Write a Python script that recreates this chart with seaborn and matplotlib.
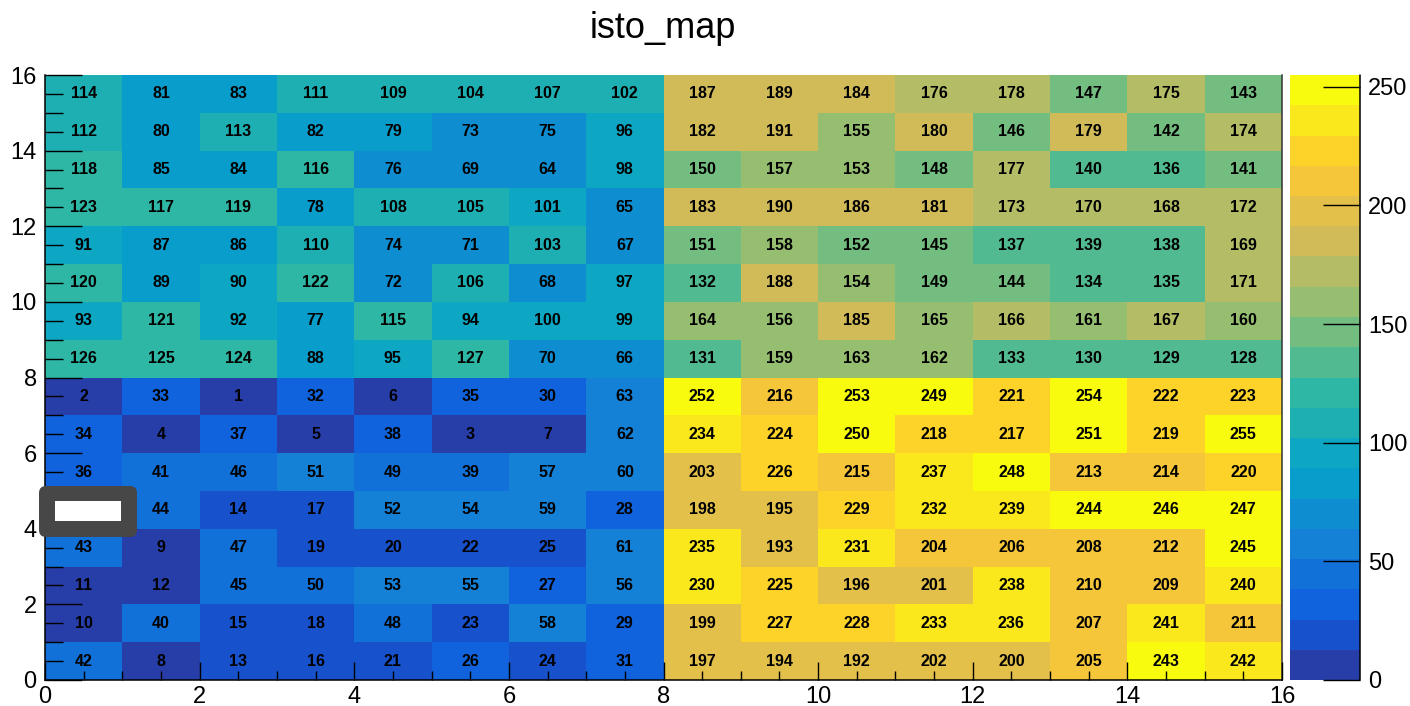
import numpy as np
import matplotlib
matplotlib.use("Agg")
import matplotlib.pyplot as plt
from matplotlib.colors import LinearSegmentedColormap, ListedColormap, BoundaryNorm
from matplotlib.patches import FancyBboxPatch, Rectangle
from matplotlib.ticker import MultipleLocator
import seaborn as sns

# ---------------- data ----------------
title = "isto_map"
# bin contents, one list per y bin (x bins 0..15 left to right)
y15 = [114, 81, 83, 111, 109, 104, 107, 102, 187, 189, 184, 176, 178, 147, 175, 143]
y14 = [112, 80, 113, 82, 79, 73, 75, 96, 182, 191, 155, 180, 146, 179, 142, 174]
y13 = [118, 85, 84, 116, 76, 69, 64, 98, 150, 157, 153, 148, 177, 140, 136, 141]
y12 = [123, 117, 119, 78, 108, 105, 101, 65, 183, 190, 186, 181, 173, 170, 168, 172]
y11 = [91, 87, 86, 110, 74, 71, 103, 67, 151, 158, 152, 145, 137, 139, 138, 169]
y10 = [120, 89, 90, 122, 72, 106, 68, 97, 132, 188, 154, 149, 144, 134, 135, 171]
y9 = [93, 121, 92, 77, 115, 94, 100, 99, 164, 156, 185, 165, 166, 161, 167, 160]
y8 = [126, 125, 124, 88, 95, 127, 70, 66, 131, 159, 163, 162, 133, 130, 129, 128]
y7 = [2, 33, 1, 32, 6, 35, 30, 63, 252, 216, 253, 249, 221, 254, 222, 223]
y6 = [34, 4, 37, 5, 38, 3, 7, 62, 234, 224, 250, 218, 217, 251, 219, 255]
y5 = [36, 41, 46, 51, 49, 39, 57, 60, 203, 226, 215, 237, 248, 213, 214, 220]
y4 = [0, 44, 14, 17, 52, 54, 59, 28, 198, 195, 229, 232, 239, 244, 246, 247]
y3 = [43, 9, 47, 19, 20, 22, 25, 61, 235, 193, 231, 204, 206, 208, 212, 245]
y2 = [11, 12, 45, 50, 53, 55, 27, 56, 230, 225, 196, 201, 238, 210, 209, 240]
y1 = [10, 40, 15, 18, 48, 23, 58, 29, 199, 227, 228, 233, 236, 207, 241, 211]
y0 = [42, 8, 13, 16, 21, 26, 24, 31, 197, 194, 192, 202, 200, 205, 243, 242]

x_ticks = [0, 2, 4, 6, 8, 10, 12, 14, 16]
y_ticks = [0, 2, 4, 6, 8, 10, 12, 14, 16]
z_ticks = [0, 50, 100, 150, 200, 250]
z_min, z_max = 0, 255
n_contours = 20

counts = np.array([y0, y1, y2, y3, y4, y5, y6, y7,
                   y8, y9, y10, y11, y12, y13, y14, y15])  # row index = y bin

# ---------------- style ----------------
sns.set_style("white")
plt.rcParams['font.family'] = ['Liberation Sans', 'DejaVu Sans']
plt.rcParams['text.color'] = 'black'
plt.rcParams['xtick.color'] = 'black'
plt.rcParams['ytick.color'] = 'black'
plt.rcParams['axes.axisbelow'] = False

# ROOT kBird palette, discretised into n_contours levels
stops = [0.0000, 0.1250, 0.2500, 0.3750, 0.5000, 0.6250, 0.7500, 0.8750, 1.0000]
red = [0.2082, 0.0592, 0.0780, 0.0232, 0.1802, 0.5301, 0.8186, 0.9956, 0.9764]
green = [0.1664, 0.3599, 0.5041, 0.6419, 0.7178, 0.7492, 0.7328, 0.7862, 0.9832]
blue = [0.5293, 0.8684, 0.8385, 0.7914, 0.6425, 0.4662, 0.3499, 0.1968, 0.0539]
base = LinearSegmentedColormap.from_list("bird", list(zip(stops, zip(red, green, blue))), N=255)
idx = [int((i + 0.99) * 255 / n_contours) for i in range(n_contours)]
cmap = ListedColormap([base(k / 254) for k in idx])
norm = BoundaryNorm(np.linspace(z_min, z_max, n_contours + 1), cmap.N)

W, H = 1410, 706
fig = plt.figure(figsize=(W / 100, H / 100), dpi=100)
ax = fig.add_axes([45 / W, 26 / H, 1237 / W, 605 / H])
cax = fig.add_axes([1290 / W, 26 / H, 70 / W, 605 / H])

sns.heatmap(counts, ax=ax, cbar_ax=cax, cmap=cmap, norm=norm,
            mask=(counts == 0), annot=True, fmt="d",
            annot_kws=dict(color="black", fontsize=11.5, fontweight="bold"),
            linewidths=0, xticklabels=False, yticklabels=False)

ax.set_axisbelow(False)
cax.set_axisbelow(False)
ax.set_ylim(0, 16)
ax.set_xlim(0, 16)
ax.set_xticks(x_ticks)
ax.set_xticklabels([str(t) for t in x_ticks])
ax.set_yticks(y_ticks)
ax.set_yticklabels([str(t) for t in y_ticks])
ax.xaxis.set_minor_locator(MultipleLocator(0.5))
ax.yaxis.set_minor_locator(MultipleLocator(0.5))
ax.tick_params(axis="x", which="major", direction="in", length=13, width=1,
               labelsize=17, pad=4.5, bottom=True, top=False, colors="black")
ax.tick_params(axis="x", which="minor", direction="in", length=6.5, width=1,
               bottom=True, top=False, colors="black")
ax.tick_params(axis="y", which="major", direction="in", length=26.6, width=1,
               labelsize=17, pad=6, left=True, right=False, colors="black")
ax.tick_params(axis="y", which="minor", direction="in", length=13, width=1,
               left=True, right=False, colors="black")
for s in ["left", "bottom", "right"]:
    ax.spines[s].set_visible(True)
    ax.spines[s].set_color("black")
    ax.spines[s].set_linewidth(1.1)
ax.spines["right"].set_color("#333333")
ax.spines["top"].set_visible(False)
ax.set_xlabel("")
ax.set_ylabel("")

cb = ax.collections[0].colorbar
cb.set_ticks(z_ticks)
cb.set_ticklabels([str(t) for t in z_ticks])
cb.outline.set_visible(False)
cax.yaxis.set_ticks_position("right")
cax.tick_params(axis="y", which="major", direction="in", length=26.6, width=1,
                labelsize=17, pad=6, right=True, left=False, colors="black")
cax.minorticks_off()
cax.plot([1, 1], [0, 1], transform=cax.transAxes, color="black", lw=1.1, clip_on=False)

fig.text(663 / W, 1 - 38 / H, title, ha="center", va="baseline", fontsize=26, color="black")

# overlay box (present in the reference picture)
tr = fig.dpi_scale_trans
outer = FancyBboxPatch((0.39, 1.69), 0.98, 0.51,
                       boxstyle="round,pad=0,rounding_size=0.07",
                       transform=tr, facecolor="#474747", edgecolor="none", zorder=5)
inner = Rectangle((0.55, 1.85), 0.66, 0.20, transform=tr,
                  facecolor="white", edgecolor="none", zorder=6)
fig.add_artist(outer)
fig.add_artist(inner)

fig.savefig("out.png", dpi=100)
